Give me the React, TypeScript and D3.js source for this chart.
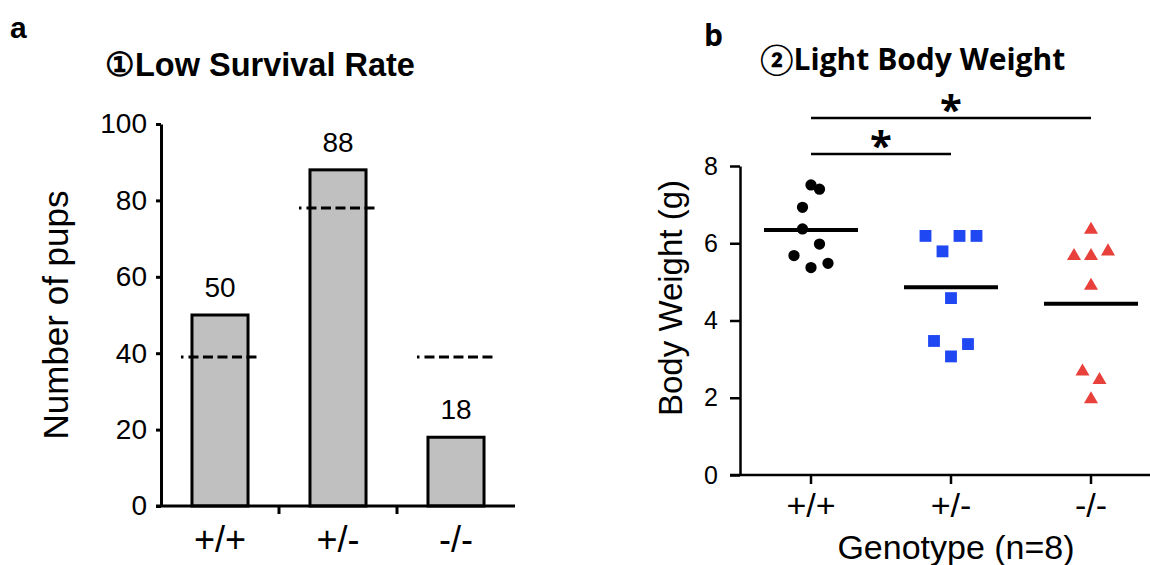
import React, { useEffect, useRef } from 'react';
import * as d3 from 'd3';

const genotypes = ['+/+', '+/-', '-/-'];

// a: number of pups per genotype, and the expected (Mendelian) count
const pupCounts = [50, 88, 18];
const expectedPups = [39, 78, 39];
const pupTicks = [0, 20, 40, 60, 80, 100];

// b: body weight (g), n=8 per genotype
const weightWT = [7.51, 7.4, 6.93, 6.37, 5.98, 5.68, 5.37, 5.48];
const weightHet = [6.19, 6.19, 6.19, 5.79, 4.58, 3.47, 3.39, 3.07];
const weightKO = [6.35, 5.67, 5.67, 5.79, 4.9, 2.68, 2.46, 1.96];
// column-scatter dodge slot of each point
const dodgeWT = [0, 1, -1, -1, 1, -2, 0, 2];
const dodgeHet = [-3, 1, 3, -1, 0, -2, 2, 0];
const dodgeKO = [0, -2, 0, 2, 0, -1, 1, 0];
const weightTicks = [0, 2, 4, 6, 8];
const comparisons = [
  { from: '+/+', to: '+/-', label: '*' },
  { from: '+/+', to: '-/-', label: '*' },
];

const helv = '"Liberation Sans", Arial, Helvetica, sans-serif';
const calibri = '"Open Sans", Lato, sans-serif';

export default function App() {
  const ref = useRef<SVGSVGElement>(null);

  useEffect(() => {
    const svg = d3.select(ref.current);
    svg.selectAll('*').remove();

    // ---------- panel a ----------
    const a = svg.append('g');
    const xA = d3
      .scaleBand()
      .domain(genotypes)
      .range([161, 515])
      .paddingInner(0.525)
      .paddingOuter(0.2625);
    const yA = d3.scaleLinear().domain([0, 100]).range([506, 124]);

    a.append('text')
      .attr('x', 10)
      .attr('y', 38)
      .attr('font-family', helv)
      .attr('font-weight', 'bold')
      .attr('font-size', 30)
      .text('a');

    a.append('text')
      .attr('x', 105)
      .attr('y', 76)
      .attr('font-family', helv)
      .attr('font-weight', 'bold')
      .attr('font-size', 32.5)
      .text('①Low Survival Rate');

    // bars
    a.append('g')
      .selectAll('rect')
      .data(pupCounts)
      .join('rect')
      .attr('x', (d, i) => xA(genotypes[i]))
      .attr('y', (d) => yA(d))
      .attr('width', xA.bandwidth())
      .attr('height', (d) => yA(0) - yA(d))
      .attr('fill', '#c0c0c0')
      .attr('stroke', '#000')
      .attr('stroke-width', 3);

    // expected counts
    a.append('g')
      .selectAll('line')
      .data(expectedPups)
      .join('line')
      .attr('x1', (d, i) => xA(genotypes[i]) - 11)
      .attr('x2', (d, i) => xA(genotypes[i]) + xA.bandwidth() + 11)
      .attr('y1', (d) => yA(d))
      .attr('y2', (d) => yA(d))
      .attr('stroke', '#000')
      .attr('stroke-width', 3)
      .attr('stroke-dasharray', '2.5 5 10 4.5 10 4.5 10 4.5 10 4.5 10 4.5');

    // value labels
    a.append('g')
      .selectAll('text')
      .data(pupCounts)
      .join('text')
      .attr('x', (d, i) => xA(genotypes[i]) + xA.bandwidth() / 2)
      .attr('y', (d) => yA(d) - 18)
      .attr('text-anchor', 'middle')
      .attr('font-family', helv)
      .attr('font-size', 28)
      .text((d) => d);

    // y axis
    const yAxisA = a
      .append('g')
      .attr('transform', 'translate(161,0)')
      .call(
        d3
          .axisLeft(yA)
          .tickValues(pupTicks)
          .tickSize(5)
          .tickSizeOuter(0)
          .tickPadding(9),
      );
    yAxisA.selectAll('path, line').attr('stroke', '#000').attr('stroke-width', 3);
    yAxisA
      .selectAll('text')
      .attr('font-family', helv)
      .attr('font-size', 28)
      .attr('fill', '#000');

    // x axis
    a.append('line')
      .attr('x1', 156)
      .attr('x2', 515)
      .attr('y1', yA(0))
      .attr('y2', yA(0))
      .attr('stroke', '#000')
      .attr('stroke-width', 3);
    a.append('g')
      .selectAll('line')
      .data(genotypes.slice(1))
      .join('line')
      .attr('x1', (d) => xA(d) - (xA.step() - xA.bandwidth()) / 2)
      .attr('x2', (d) => xA(d) - (xA.step() - xA.bandwidth()) / 2)
      .attr('y1', yA(0))
      .attr('y2', yA(0) + 8)
      .attr('stroke', '#000')
      .attr('stroke-width', 3);
    a.append('g')
      .selectAll('text')
      .data(genotypes)
      .join('text')
      .attr('x', (d) => xA(d) + xA.bandwidth() / 2)
      .attr('y', 552)
      .attr('text-anchor', 'middle')
      .attr('font-family', helv)
      .attr('font-size', 36)
      .text((d) => d);

    a.append('text')
      .attr('transform', 'translate(68,315) rotate(-90)')
      .attr('text-anchor', 'middle')
      .attr('font-family', helv)
      .attr('font-size', 35)
      .text('Number of pups');

    // ---------- panel b ----------
    const b = svg.append('g');
    const xB = d3.scaleBand().domain(genotypes).range([741, 1161]);
    const yB = d3.scaleLinear().domain([0, 8]).range([475, 166]);
    const dodge = 8.5;

    b.append('text')
      .attr('x', 704)
      .attr('y', 46)
      .attr('font-family', calibri)
      .attr('font-weight', 'bold')
      .attr('font-size', 30)
      .text('b');

    b.append('text')
      .attr('x', 760)
      .attr('y', 70)
      .attr('font-family', calibri)
      .attr('font-weight', 'bold')
      .attr('font-size', 30)
      .text('②Light Body Weight');

    // significance brackets
    comparisons.forEach((c, i) => {
      const ly = yB(8) - 12 - i * 36;
      const x1 = xB(c.from) + xB.bandwidth() / 2;
      const x2 = xB(c.to) + xB.bandwidth() / 2;
      b.append('line')
        .attr('x1', x1)
        .attr('x2', x2)
        .attr('y1', ly)
        .attr('y2', ly)
        .attr('stroke', '#000')
        .attr('stroke-width', 2.5);
      b.append('text')
        .attr('x', (x1 + x2) / 2)
        .attr('y', ly + 6)
        .attr('text-anchor', 'middle')
        .attr('font-family', calibri)
        .attr('font-weight', 'bold')
        .attr('font-size', 40)
        .text(c.label);
    });

    // y axis
    const yAxisB = b
      .append('g')
      .attr('transform', 'translate(740,0)')
      .call(
        d3
          .axisLeft(yB)
          .tickValues(weightTicks)
          .tickSize(10)
          .tickSizeOuter(0)
          .tickPadding(12),
      );
    yAxisB.selectAll('path, line').attr('stroke', '#000').attr('stroke-width', 2.5);
    yAxisB
      .selectAll('text')
      .attr('font-family', helv)
      .attr('font-size', 25)
      .attr('fill', '#000');

    // x axis
    b.append('line')
      .attr('x1', 730)
      .attr('x2', 1150)
      .attr('y1', yB(0))
      .attr('y2', yB(0))
      .attr('stroke', '#000')
      .attr('stroke-width', 2.5);
    b.append('g')
      .selectAll('line')
      .data(genotypes)
      .join('line')
      .attr('x1', (d) => xB(d) + xB.bandwidth() / 2)
      .attr('x2', (d) => xB(d) + xB.bandwidth() / 2)
      .attr('y1', yB(0))
      .attr('y2', yB(0) + 9)
      .attr('stroke', '#000')
      .attr('stroke-width', 2.5);
    b.append('g')
      .selectAll('text')
      .data(genotypes)
      .join('text')
      .attr('x', (d) => xB(d) + xB.bandwidth() / 2)
      .attr('y', 517)
      .attr('text-anchor', 'middle')
      .attr('font-family', helv)
      .attr('font-size', 34)
      .text((d) => d);

    b.append('text')
      .attr('x', 956)
      .attr('y', 559)
      .attr('text-anchor', 'middle')
      .attr('font-family', helv)
      .attr('font-size', 34)
      .text('Genotype (n=8)');

    b.append('text')
      .attr('transform', 'translate(682,298) rotate(-90)')
      .attr('text-anchor', 'middle')
      .attr('font-family', helv)
      .attr('font-size', 33)
      .text('Body Weight (g)');

    const groups = [
      { g: '+/+', values: weightWT, slots: dodgeWT, symbol: d3.symbolCircle, size: 100, color: '#000' },
      { g: '+/-', values: weightHet, slots: dodgeHet, symbol: d3.symbolSquare, size: 140, color: '#1f47f2' },
      { g: '-/-', values: weightKO, slots: dodgeKO, symbol: d3.symbolTriangle, size: 85, color: '#e8403a' },
    ];

    groups.forEach((grp) => {
      const cx = xB(grp.g) + xB.bandwidth() / 2;
      b.append('g')
        .selectAll('path')
        .data(grp.values)
        .join('path')
        .attr('transform', (d, i) => `translate(${cx + grp.slots[i] * dodge},${yB(d)})`)
        .attr('d', d3.symbol().type(grp.symbol).size(grp.size)())
        .attr('fill', grp.color);
      const m = d3.mean(grp.values);
      b.append('line')
        .attr('x1', cx - 47)
        .attr('x2', cx + 47)
        .attr('y1', yB(m))
        .attr('y2', yB(m))
        .attr('stroke', '#000')
        .attr('stroke-width', 4);
    });
  }, []);

  return (
    <svg
      ref={ref}
      width={1150}
      height={565}
      style={{ position: 'absolute', left: 0, top: 0, background: '#fff' }}
    />
  );
}
